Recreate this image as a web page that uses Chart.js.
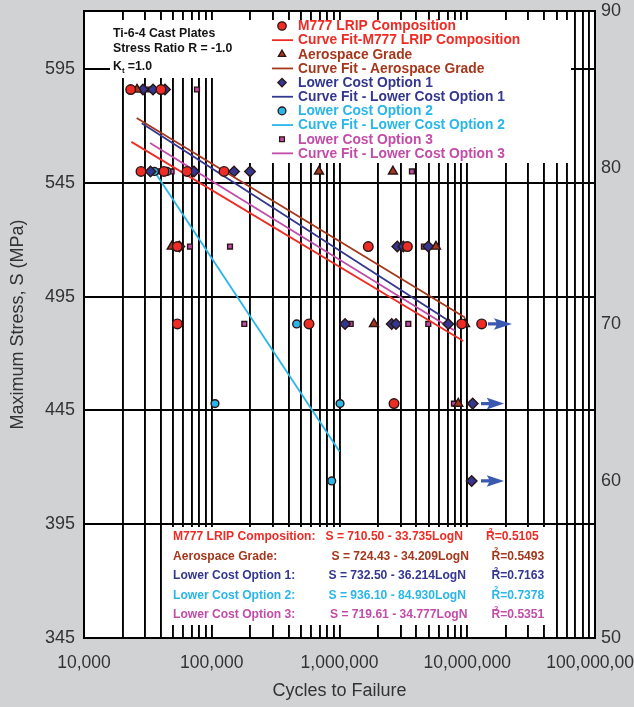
<!DOCTYPE html>
<html><head><meta charset="utf-8">
<script src="https://cdn.jsdelivr.net/npm/chart.js@4.4.0/dist/chart.umd.min.js"></script>
<style>html,body{margin:0;padding:0;background:#d1d2d4;}#wrap{width:634px;height:707px;}</style>
</head><body><div id="wrap"><canvas id="c" width="634" height="707"></canvas></div>
<script>
// ---------------- data ----------------
const seriesNames = ['M777 LRIP Composition','Aerospace Grade','Lower Cost Option 1','Lower Cost Option 2','Lower Cost Option 3'];
const fitNames = ['Curve Fit-M777 LRIP Composition','Curve Fit - Aerospace Grade','Curve Fit - Lower Cost Option 1','Curve Fit - Lower Cost Option 2','Curve Fit - Lower Cost Option 3'];
const seriesColors = ['#ee2b24','#a5381c','#34378f','#29b6e8','#c24ca8'];

// cycles (N) and max stress (MPa)
const m777N = [23200, 40060, 27940, 42270, 64000, 124700, 53770, 1680000, 3400000, 53770, 577000, 9050000, 12970000, 2670000];
const m777S = [586, 586, 550, 550, 550, 550, 517, 517, 517, 483, 483, 483, 483, 448];
const aeroN = [26000, 691000, 2620000, 48600, 5690000, 1862000, 9600000, 8500000];
const aeroS = [586, 550, 550, 517, 517, 483, 483, 448];
const opt1N = [28960, 34700, 43050, 33150, 72600, 149300, 199300, 55720, 2835000, 3160000, 4950000, 1105000, 2563000, 2770000, 7100000, 11030000, 10830000];
const opt1S = [586, 586, 586, 550, 550, 550, 550, 517, 517, 517, 517, 483, 483, 483, 483, 448, 414];
const opt2N = [35640, 44700, 462000, 106000, 1010000, 869000];
const opt2S = [550, 550, 483, 448, 448, 414];
const opt3N = [32270, 76650, 38640, 48500, 3690000, 67550, 139000, 4580000, 179800, 1224000, 3456000, 4955000, 7870000, 10830000];
const opt3S = [586, 586, 550, 550, 550, 517, 517, 517, 483, 483, 483, 483, 448, 414];

// curve-fit end points
const fitM777N = [23500, 9300000];   const fitM777S = [563.0, 475.5];
const fitAeroN = [25850, 9600000];   const fitAeroS = [573.5, 485.8];
const fitOpt1N = [28300, 7100000];   const fitOpt1S = [571.2, 484.5];
const fitOpt2N = [37000, 1000000];   const fitOpt2S = [548.5, 427.0];
const fitOpt3N = [32900, 8000000];   const fitOpt3S = [562.5, 480.0];

// run-out arrows (start N, end N, stress)
const runStartN = [14530000, 12810000, 12810000];
const runEndN   = [22400000, 19400000, 19400000];
const runS      = [483, 448, 414];

const xTickValues = [1e4, 1e5, 1e6, 1e7, 1e8];
const xTickLabels = ['10,000','100,000','1,000,000','10,000,000','100,000,000'];
const yTickValues = [345, 395, 445, 495, 545, 595];
const y2TickValues = [50, 60, 70, 80, 90];

const eqNames = ['M777 LRIP Composition:','Aerospace Grade:','Lower Cost Option 1:','Lower Cost Option 2:','Lower Cost Option 3:'];
const eqTexts = ['S = 710.50 - 33.735LogN','S = 724.43 - 34.209LogN','S = 732.50 - 36.214LogN','S = 936.10 - 84.930LogN','S = 719.61 - 34.777LogN'];
const eqR2 = ['0.5105','0.5493','0.7163','0.7378','0.5351'];
const noteLines = ['Ti-6-4 Cast Plates','Stress Ratio R = -1.0'];

// ---------------- build ----------------
const pts = (N, S) => N.map((n, i) => ({x: n, y: S[i]}));
const styles = ['circle','triangle','rectRot','circle','rect'];
const radii = [4.8, 5.2, 5.3, 3.9, 3.4];
const ptData = [pts(m777N,m777S), pts(aeroN,aeroS), pts(opt1N,opt1S), pts(opt2N,opt2S), pts(opt3N,opt3S)];
const fitData = [pts(fitM777N,fitM777S), pts(fitAeroN,fitAeroS), pts(fitOpt1N,fitOpt1S), pts(fitOpt2N,fitOpt2S), pts(fitOpt3N,fitOpt3S)];

const datasets = [];
for (let i = 0; i < 5; i++) {
  datasets.push({label: seriesNames[i], data: ptData[i], showLine: false, pointStyle: styles[i],
    pointRadius: radii[i], pointBackgroundColor: seriesColors[i], pointBorderColor: '#2a1414', pointBorderWidth: 1.4,
    borderColor: seriesColors[i], backgroundColor: seriesColors[i]});
  datasets.push({label: fitNames[i], data: fitData[i], showLine: true, pointRadius: 0, borderColor: seriesColors[i],
    backgroundColor: seriesColors[i], borderWidth: 1.8, fill: false});
}

const FONT = "'Liberation Sans',Arial,Helvetica,sans-serif";
const BFONT = "'Liberation Sans',Arial,Helvetica,sans-serif";
const zeroPad = s => { s.paddingLeft = 0; s.paddingRight = 0; s.paddingTop = 0; s.paddingBottom = 0; };

const overlay = {
  id: 'overlay',
  beforeDatasetsDraw(chart) {
    const ctx = chart.ctx, a = chart.chartArea;
    ctx.save();
    ctx.fillStyle = '#ffffff';
    ctx.fillRect(110, 20, 461, 58);
    ctx.fillRect(235, 20, 336, 143);
    ctx.fillRect(165, 527, 385, 98);
    // plot frame
    ctx.strokeStyle = '#000'; ctx.lineWidth = 2;
    ctx.strokeRect(a.left, a.top, a.right - a.left, a.bottom - a.top);
    // note text
    ctx.fillStyle = '#141414'; ctx.textBaseline = 'alphabetic'; ctx.textAlign = 'left';
    ctx.font = "bold 12.3px " + BFONT;
    ctx.fillText(noteLines[0], 113, 36.5);
    ctx.fillText(noteLines[1], 113, 52);
    ctx.fillText('K', 113, 70);
    const kw = ctx.measureText('K').width;
    ctx.font = "bold 8px " + BFONT;
    ctx.fillText('t', 113 + kw, 72.5);
    ctx.font = "bold 12.3px " + BFONT;
    ctx.fillText(' =1.0', 113 + kw + 2.5, 70);
    // legend
    ctx.textBaseline = 'middle';
    chart.data.datasets.forEach((ds, i) => {
      const y = 26 + i * 14.15;
      ctx.save();
      if (ds.showLine) {
        ctx.strokeStyle = ds.borderColor; ctx.lineWidth = 1.8;
        ctx.beginPath(); ctx.moveTo(272, y); ctx.lineTo(293, y); ctx.stroke();
      } else {
        ctx.fillStyle = ds.pointBackgroundColor; ctx.strokeStyle = ds.pointBorderColor; ctx.lineWidth = 1.3;
        Chart.helpers.drawPoint(ctx, {pointStyle: ds.pointStyle, radius: Math.min(ds.pointRadius, 4.2), rotation: 0, borderWidth: 1.3}, 282, y);
      }
      ctx.restore();
      ctx.fillStyle = ds.borderColor;
      ctx.font = "bold 13.8px " + BFONT;
      ctx.fillText(ds.label, 298, y + 0.5);
    });
    // equations box
    const eqX = [325.5, 331.5, 328.5, 328.5, 330];
    const rX = [486, 491.5, 491.5, 491.5, 491.5];
    for (let i = 0; i < 5; i++) {
      const y = 537 + i * 19.4;
      ctx.fillStyle = seriesColors[i];
      ctx.font = "bold 12.1px " + BFONT;
      ctx.fillText(eqNames[i], 173, y);
      ctx.fillText(eqTexts[i], eqX[i], y);
      ctx.fillText('R', rX[i], y);
      const rw = ctx.measureText('R').width;
      ctx.font = "bold 7.5px " + BFONT;
      ctx.fillText('2', rX[i] + 2.5, y - 6);
      ctx.font = "bold 12.1px " + BFONT;
      ctx.fillText('=' + eqR2[i], rX[i] + rw, y);
    }
    ctx.restore();
  },
  afterDatasetsDraw(chart) {
    const ctx = chart.ctx, xs = chart.scales.x, ys = chart.scales.y;
    ctx.save();
    ctx.fillStyle = '#3a59b0';
    for (let i = 0; i < runS.length; i++) {
      const x0 = xs.getPixelForValue(runStartN[i]), x1 = xs.getPixelForValue(runEndN[i]);
      const y = ys.getPixelForValue(runS[i]);
      const L = x1 - x0;
      ctx.beginPath();
      ctx.moveTo(x0, y - 1.6);
      ctx.lineTo(x0 + L * 0.35, y - 1.6);
      ctx.lineTo(x0 + L * 0.25, y - 5.8);
      ctx.lineTo(x1, y);
      ctx.lineTo(x0 + L * 0.25, y + 5.8);
      ctx.lineTo(x0 + L * 0.35, y + 1.6);
      ctx.lineTo(x0, y + 1.6);
      ctx.closePath();
      ctx.fill();
    }
    ctx.restore();
  }
};

const bg = {
  id: 'bg',
  beforeDraw(chart) {
    const ctx = chart.ctx;
    ctx.save(); ctx.fillStyle = '#d1d2d4'; ctx.fillRect(0, 0, chart.width, chart.height);
    const a = chart.chartArea; ctx.fillStyle = '#fff'; ctx.fillRect(a.left, a.top, a.right - a.left, a.bottom - a.top);
    ctx.restore();
  }
};

new Chart(document.getElementById('c'), {
  type: 'scatter',
  data: {datasets},
  plugins: [bg, overlay],
  options: {
    responsive: false, animation: false, devicePixelRatio: 1,
    layout: {padding: {top: 11, left: 0, right: 0, bottom: 0}},
    plugins: {legend: {display: false}, tooltip: {enabled: false}},
    scales: {
      x: {
        type: 'logarithmic', position: 'bottom', min: 1e4, max: 1e8,
        afterFit(s) { s.height = 69; zeroPad(s); },
        afterBuildTicks(s) {
          const t = [];
          for (let e = 4; e < 8; e++) for (let m = 1; m < 10; m++) t.push({value: m * Math.pow(10, e)});
          t.push({value: 1e8});
          s.ticks = t;
        },
        grid: {color: '#000', lineWidth: 1.9, drawTicks: false},
        border: {color: '#000', width: 2},
        ticks: {autoSkip: false, maxRotation: 0, padding: 15, color: '#333', font: {family: FONT, size: 17.5},
          callback(v) { const k = xTickValues.indexOf(v); return k >= 0 ? xTickLabels[k] : ''; }},
        title: {display: true, text: 'Cycles to Failure', color: '#333', font: {family: FONT, size: 18}, padding: {top: 0, bottom: 5}}
      },
      y: {
        position: 'left', min: 345, max: 620.5,
        afterFit(s) { s.width = 84; zeroPad(s); },
        afterBuildTicks(s) { s.ticks = yTickValues.map(v => ({value: v})); },
        grid: {color: '#000', lineWidth: 1.9, drawTicks: false},
        border: {color: '#000', width: 2},
        ticks: {padding: 9, color: '#333', font: {family: FONT, size: 18}},
        title: {display: true, text: 'Maximum Stress, S (MPa)', color: '#333', font: {family: FONT, size: 18}, padding: {top: 7, bottom: 0}}
      },
      y2: {
        position: 'right', min: 50, max: 90,
        afterFit(s) { s.width = 39; zeroPad(s); },
        afterBuildTicks(s) { s.ticks = y2TickValues.map(v => ({value: v})); },
        grid: {display: false, drawTicks: false},
        border: {color: '#000', width: 2},
        ticks: {padding: 6, color: '#333', font: {family: FONT, size: 18}}
      }
    }
  }
});
</script>
</body></html>
